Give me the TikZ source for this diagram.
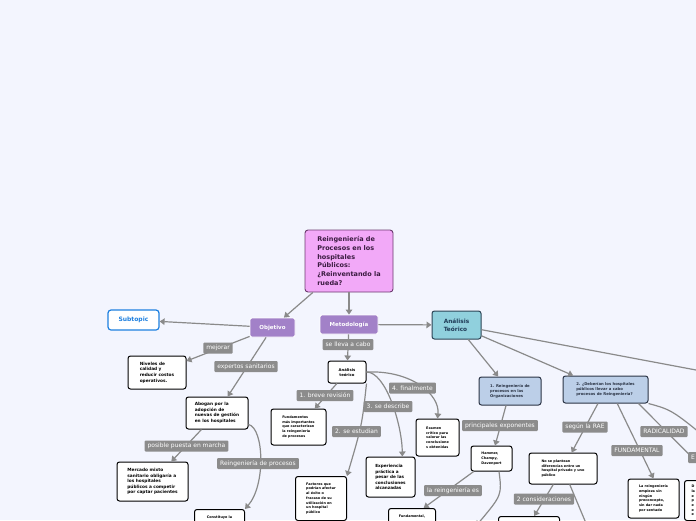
\documentclass[tikz,border=0pt]{standalone}
\usepackage{fontspec}
\setmainfont{DejaVu Sans}
\usetikzlibrary{arrows.meta}
\definecolor{canvas}{HTML}{F3F5FE}
\definecolor{topicfill}{HTML}{F2A9F8}
\definecolor{topicline}{HTML}{6B3A6E}
\definecolor{topictext}{HTML}{3A1B40}
\definecolor{mainfill}{HTML}{A281C8}
\definecolor{anafill}{HTML}{90D0DD}
\definecolor{analine}{HTML}{2B4455}
\definecolor{anatext}{HTML}{1F3B57}
\definecolor{sectfill}{HTML}{BCCFE8}
\definecolor{sectline}{HTML}{2B3445}
\definecolor{subblue}{HTML}{1E80E0}
\definecolor{edgegray}{HTML}{8A8A8A}
\definecolor{lblgray}{HTML}{8C8C8C}

\begin{document}
\begin{tikzpicture}[
  x=1pt, y=-1pt,
  topic/.style={draw=topicline, fill=topicfill, rounded corners=3pt, line width=0.9pt,
                align=left, text=topictext, inner sep=0pt,
                font=\bfseries\fontsize{6.5}{8.7}\selectfont},
  mainbox/.style={draw=white, fill=mainfill, rounded corners=2pt, line width=0.8pt,
                  text=white, inner sep=0pt, minimum height=19pt,
                  font=\bfseries\fontsize{5.5}{7}\selectfont},
  leaf/.style={draw=black, fill=white, rounded corners=2.5pt, line width=1pt,
               align=left, inner sep=0pt, font=\bfseries\fontsize{4.3}{5.6}\selectfont},
  tiny/.style={leaf, font=\bfseries\fontsize{3.4}{4.7}\selectfont},
  sect/.style={leaf, fill=sectfill, draw=sectline, text=sectline,
               font=\bfseries\fontsize{3.8}{5}\selectfont},
  lbl/.style={fill=lblgray, text=white, rounded corners=1pt, inner xsep=3pt,
              inner ysep=0pt, minimum height=11pt, font=\fontsize{6}{7}\selectfont},
  arr/.style={-{Triangle[length=5pt,width=6.5pt]}, draw=edgegray, line width=1.2pt}
]
  \path[use as bounding box, fill=canvas] (0,0) rectangle (696,520);
  \clip (0,0) rectangle (696,520);

  % central topic and main branches
  \node[topic, minimum width=88pt, minimum height=62pt] (central) at (349,261)
    {Reingeniería de\\Procesos en los\\hospitales\\Públicos:\\¿Reinventando la\\rueda?};
  \node[mainbox, minimum width=45pt] (objetivo) at (272.5,327.5) {Objetivo};
  \node[mainbox, minimum width=58pt] (metodologia) at (349,324.5) {Metodología};
  \node[draw=subblue, fill=white, text=subblue, rounded corners=3pt, line width=1.2pt,
        font=\bfseries\fontsize{6}{7}\selectfont, minimum width=51pt,
        minimum height=20pt, inner sep=0pt] (subtopic) at (133.5,320) {Subtopic};
  \node[draw=analine, fill=anafill, text=anatext, rounded corners=2.5pt, line width=1pt,
        align=left, font=\bfseries\fontsize{5.8}{7.6}\selectfont, minimum width=49pt,
        minimum height=28pt, inner sep=0pt] (analisis) at (456.5,325) {Análisis\\Teórico};

  % Objetivo branch
  \node[leaf, minimum width=58pt, minimum height=33pt] (niveles) at (157,372.5)
    {Niveles de\\calidad y\\reducir costos\\operativos.};
  \node[leaf, minimum width=62pt, minimum height=32pt] (abogan) at (217,413)
    {Abogan por la\\adopción de\\nuevas de gestión\\en los hospitales};
  \node[leaf, minimum width=71pt, minimum height=39pt] (mercado) at (152.5,481.5)
    {Mercado mixto\\sanitario obligaría a\\los hospitales\\públicos a competir\\por captar pacientes};
  \node[tiny, anchor=north west, minimum width=50pt, minimum height=16pt] (constituye)
    at (194,509) {Constituye la};

  % Metodologia branch
  \node[leaf, align=center, font=\bfseries\fontsize{3.8}{5}\selectfont,
        minimum width=38pt, minimum height=22pt] (anteo) at (347,372) {Análisis\\teórico};
  \node[tiny, minimum width=55pt, minimum height=36pt] (fundamentos) at (298.5,427)
    {Fundamentos\\más importantes\\que caracterizan\\la reingeniería\\de procesos};
  \node[tiny, anchor=north west, minimum width=51pt, minimum height=44pt] (factores)
    at (295,476) {Factores que\\podrían afectar\\al éxito o\\fracaso de su\\utilización en\\un hospital\\público};
  \node[leaf, font=\bfseries\fontsize{4.2}{5.5}\selectfont, minimum width=49pt,
        minimum height=40pt] (experiencia) at (390.5,477)
    {Experiencia\\práctica a\\pesar de las\\conclusiones\\alcanzadas};
  \node[tiny, minimum width=43pt, minimum height=37pt] (examen) at (437.5,437.5)
    {Examen\\crítico para\\valorar las\\conclusione\\s obtenidas};

  % Analisis Teorico branch
  \node[sect, minimum width=62pt, minimum height=28pt] (reing1) at (510,391)
    {1. Reingeniería de\\procesos en las\\Organizaciones};
  \node[sect, minimum width=85pt, minimum height=27pt] (reing2) at (605.5,389.5)
    {2. ¿Deberían los hospitales\\públicos llevar a cabo\\procesos de Reingeniería?};
  \node[tiny, minimum width=41pt, minimum height=25pt] (hammer) at (491.5,458.5)
    {Hammer,\\Champy,\\Davenport};
  \node[tiny, anchor=north west, minimum width=47pt, minimum height=16pt] (fundamental)
    at (388,508) {Fundamental,};
  \node[tiny, minimum width=68pt, minimum height=31pt] (noplant) at (563,468.5)
    {No se plantean\\diferencias entre un\\hospital privado y uno\\público};
  \node[tiny, anchor=north west, minimum width=61pt, minimum height=16pt] (dosbox)
    at (498,516) {};
  \node[tiny, minimum width=51pt, minimum height=39pt] (sinprecon) at (653.5,498.5)
    {La reingeniería\\empieza sin\\ningún\\preconcepto,\\sin dar nada\\por sentado};
  \node[tiny, anchor=north west, text width=46pt, inner xsep=7pt, minimum height=40pt]
    (rightbox) at (684,480) {D\\la\\e\\p\\e\\e\\e};

  \coordinate (offright) at (720,374.5);
  \coordinate (offright2) at (716,446);
  \coordinate (hamlow) at (476,526);
  \coordinate (planlow) at (588,528);

  % connectors
  \draw[arr] (central) -- (objetivo);
  \draw[arr] (central) -- (metodologia);
  \draw[arr] (metodologia) -- (analisis);
  \draw[arr] (objetivo) -- (subtopic);
  \draw[arr] (analisis) -- (offright);
  \draw[arr] (objetivo) -- (niveles);
  \draw[arr] (objetivo) -- (abogan);
  \draw[arr] (abogan) -- (mercado);
  \draw[arr] (abogan.-20) .. controls (264,428) and (266,485) .. (constituye.north east);
  \draw[arr] (metodologia) -- (anteo);
  \draw[arr] (anteo) -- (fundamentos);
  \draw[arr] (anteo.south east) .. controls (362,425) .. (factores.north east);
  \draw[arr] (anteo.east) .. controls (386,372) and (402,425) .. (experiencia.60);
  \draw[arr] (anteo.east) .. controls (412,370) and (440,395) .. (examen.north);
  \draw[arr] (analisis) -- (reing1);
  \draw[arr] (analisis) -- (reing2);
  \draw[arr] (reing1) -- (hammer);
  \draw[arr] (hammer) -- (fundamental);
  \draw[arr] (hammer.-60) .. controls (502,495) .. (hamlow);
  \draw[arr] (reing2) -- (noplant);
  \draw[arr] (noplant) -- (dosbox);
  \draw[arr] (noplant) -- (planlow);
  \draw[arr] (reing2.-50) -- (sinprecon.north);
  \draw[arr] (reing2.-23) -- (rightbox.north);
  \draw[arr] (reing2.south east) .. controls (672,410) .. (offright2);

  % connector labels
  \node[lbl] (lmejorar) at (218,348) {mejorar};
  \node[lbl] (lexpertos) at (246,366.5) {expertos sanitarios};
  \node[lbl] (lposible) at (186.5,446) {posible puesta en marcha};
  \node[lbl] (lreing) at (258,463.5) {Reingeniería de procesos};
  \node[lbl] (lllevar) at (348,344.5) {se lleva a cabo};
  \node[lbl] (lbreve) at (325,395.5) {1. breve revisión};
  \node[lbl] (lestudian) at (356.5,431.5) {2. se estudian};
  \node[lbl] (ldescribe) at (388,406.5) {3. se describe};
  \node[lbl] (lfinal) at (412.5,388) {4. finalmente};
  \node[lbl] (lexpon) at (500,425.5) {principales exponentes};
  \node[lbl] (les) at (453,490.5) {la reingeniería es};
  \node[lbl] (lrae) at (585,427) {según la RAE};
  \node[lbl] (lconsid) at (544,499) {2 consideraciones};
  \node[lbl] (lfund) at (637,450.5) {FUNDAMENTAL};
  \node[lbl] (lradical) at (664,431.5) {RADICALIDAD};
  \node[lbl, anchor=west] (le) at (688,457.5) {E};
\end{tikzpicture}
\end{document}
